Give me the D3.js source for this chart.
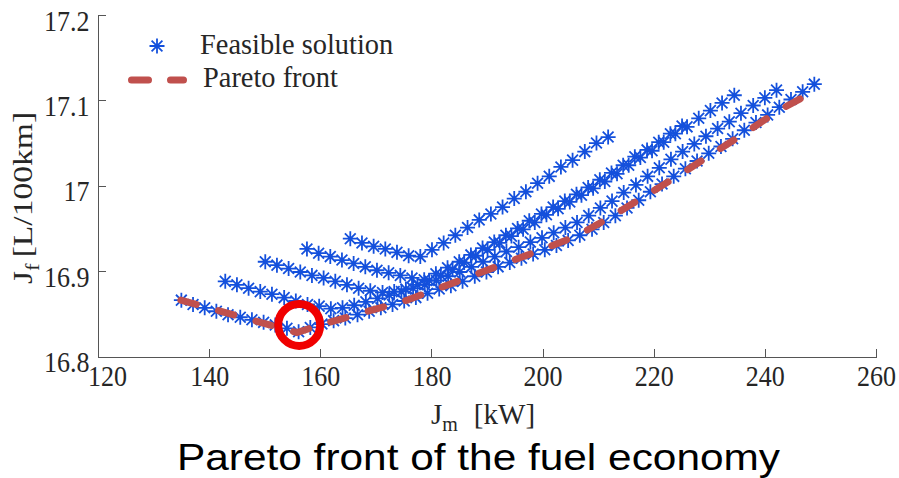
<!DOCTYPE html>
<html>
<head>
<meta charset="utf-8">
<script src="https://cdn.jsdelivr.net/npm/d3@7"></script>
<style>
  html, body { margin: 0; padding: 0; background: #fff; }
  svg { display: block; background: #fff; }
  .axis path, .axis line { stroke: #555; stroke-width: 1; shape-rendering: crispEdges; }
  .axis text { font-family: "Liberation Serif", "Times New Roman", serif; font-size: 26px; fill: #262626; }
  .lbl { font-family: "Liberation Serif", "Times New Roman", serif; fill: #262626; }
</style>
</head>
<body>
<svg width="899" height="478"></svg>
<script>
// --- Feasible solutions, one sweep per row (J_m in kW, J_f in L/100km) ---
const rowA_Jm = [135.0, 137.1, 139.2, 141.3, 143.4, 145.6, 147.7, 149.8, 151.9, 154.0, 156.1, 158.2, 160.3, 162.4, 164.5, 166.7, 168.8, 170.9, 173.0, 175.1, 177.2, 179.3, 181.4, 183.5, 185.6, 187.8, 189.9, 192.0, 194.1, 196.2, 198.3, 200.4, 202.5, 204.6, 206.7, 208.9, 211.0, 213.1, 215.2, 217.3, 219.4, 221.5, 223.6, 225.7, 227.8, 229.9, 232.1, 234.2, 236.3, 238.4, 240.5, 242.6, 244.7, 246.8, 248.9];
const rowA_Jf = [16.866, 16.861, 16.857, 16.853, 16.849, 16.846, 16.843, 16.840, 16.837, 16.833, 16.829, 16.834, 16.838, 16.842, 16.845, 16.849, 16.853, 16.857, 16.861, 16.865, 16.869, 16.874, 16.879, 16.883, 16.888, 16.894, 16.899, 16.905, 16.910, 16.915, 16.920, 16.925, 16.930, 16.936, 16.942, 16.949, 16.957, 16.965, 16.974, 16.983, 16.993, 17.002, 17.011, 17.020, 17.029, 17.038, 17.046, 17.055, 17.065, 17.074, 17.083, 17.092, 17.101, 17.110, 17.119];

const rowB_Jm = [142.9, 145.0, 147.1, 149.2, 151.3, 153.5, 155.6, 157.7, 159.8, 161.9, 164.0, 166.1, 168.2, 170.3, 172.4, 174.6, 176.7, 178.8, 180.9, 183.0, 185.1, 187.2, 189.3, 191.4, 193.5, 195.7, 197.8, 199.9, 202.0, 204.1, 206.2, 208.3, 210.4, 212.5, 214.6, 216.8, 218.9, 221.0, 223.1, 225.2, 227.3, 229.4, 231.5, 233.6, 235.7, 237.9, 240.0, 242.1];
const rowB_Jf = [16.888, 16.884, 16.880, 16.876, 16.873, 16.869, 16.865, 16.861, 16.859, 16.856, 16.857, 16.860, 16.864, 16.868, 16.872, 16.876, 16.880, 16.884, 16.889, 16.894, 16.899, 16.905, 16.911, 16.917, 16.923, 16.928, 16.934, 16.939, 16.945, 16.951, 16.957, 16.965, 16.974, 16.982, 16.992, 17.001, 17.011, 17.021, 17.031, 17.040, 17.049, 17.058, 17.067, 17.075, 17.085, 17.094, 17.103, 17.112];

const rowC_Jm = [150.1, 152.2, 154.3, 156.4, 158.5, 160.6, 162.7, 164.8, 166.9, 169.0, 171.2, 173.3, 175.4, 177.5, 179.6, 181.7, 183.8, 185.9, 188.0, 190.1, 192.3, 194.4, 196.5, 198.6, 200.7, 202.8, 204.9, 207.0, 209.1, 211.2, 213.4, 215.5, 217.6, 219.7, 221.8, 223.9, 226.0, 228.1, 230.2, 232.3, 234.5];
const rowC_Jf = [16.911, 16.907, 16.903, 16.899, 16.895, 16.892, 16.888, 16.884, 16.880, 16.877, 16.875, 16.876, 16.879, 16.884, 16.889, 16.895, 16.902, 16.910, 16.918, 16.925, 16.933, 16.941, 16.949, 16.957, 16.966, 16.973, 16.981, 16.989, 16.997, 17.005, 17.014, 17.024, 17.033, 17.041, 17.051, 17.061, 17.069, 17.079, 17.088, 17.097, 17.106];

const rowD_Jm = [157.6, 159.7, 161.8, 163.9, 166.0, 168.1, 170.2, 172.3, 174.4, 176.5, 178.7, 180.8, 182.9, 185.0, 187.1, 189.2, 191.3, 193.4, 195.5, 197.6, 199.8, 201.9, 204.0, 206.1, 208.2, 210.3, 212.4, 214.5, 216.6, 218.8, 220.9, 223.0, 225.1];
const rowD_Jf = [16.926, 16.921, 16.917, 16.913, 16.909, 16.905, 16.901, 16.898, 16.895, 16.892, 16.890, 16.897, 16.904, 16.911, 16.919, 16.927, 16.934, 16.942, 16.950, 16.959, 16.967, 16.975, 16.982, 16.990, 16.998, 17.007, 17.015, 17.024, 17.034, 17.042, 17.051, 17.061, 17.070];

const rowE_Jm = [165.4, 167.5, 169.6, 171.7, 173.8, 175.9, 178.0, 180.1, 182.2, 184.3, 186.5, 188.6, 190.7, 192.8, 194.9, 197.0, 199.1, 201.2, 203.3, 205.4, 207.6, 209.7, 211.8];
const rowE_Jf = [16.938, 16.933, 16.929, 16.926, 16.922, 16.918, 16.917, 16.925, 16.933, 16.942, 16.951, 16.960, 16.967, 16.975, 16.985, 16.993, 17.003, 17.011, 17.022, 17.030, 17.040, 17.050, 17.057];

// --- Pareto front (dashed) ---
const paretoJm = [134.9, 155.8, 160.0, 175.6, 179.7, 186.3, 193.2, 199.8, 206.1, 212.4, 218.7, 224.7, 230.7, 236.7, 242.7, 248.7];
const paretoJf = [16.866, 16.828, 16.837, 16.866, 16.876, 16.892, 16.909, 16.925, 16.941, 16.964, 16.989, 17.013, 17.038, 17.063, 17.089, 17.110];

// --- Highlighted optimum (red circle) ---
const optimumJm = 156.2;
const optimumJf = 16.837;

// --- Axes / labels ---
const xTicks = [120, 140, 160, 180, 200, 220, 240, 260];
const yTicks = [16.8, 16.9, 17, 17.1, 17.2];
const legendLabels = ["Feasible solution", "Pareto front"];
const titleText = "Pareto front of the fuel economy";

const starColor = "#1450dc";
const paretoColor = "#c0504d";

const svg = d3.select("svg");

const x = d3.scaleLinear().domain([120, 260]).range([98, 876]);
const y = d3.scaleLinear().domain([16.8, 17.2]).range([356.5, 15]);

// asterisk marker: + and x combined
function starPath(r) {
  const d = r * 0.72;
  return `M${-r},0H${r}M0,${-r}V${r}M${-d},${-d}L${d},${d}M${-d},${d}L${d},${-d}`;
}

// --- Axes (ticks pointing inward, no box) ---
const xAxis = svg.append("g")
  .attr("class", "axis")
  .attr("transform", `translate(0,${y(16.8)})`)
  .call(d3.axisBottom(x).tickValues(xTicks).tickFormat(d3.format("d")).tickSizeInner(-8).tickSizeOuter(0));
xAxis.selectAll("text")
  .attr("x", null).attr("y", null).attr("dy", null)
  .attr("transform", d => `translate(${d === 120 ? 9 : 0},29.5) scale(1,1.1)`);

const yAxis = svg.append("g")
  .attr("class", "axis")
  .attr("transform", `translate(${x(120)},0)`)
  .call(d3.axisLeft(y).tickValues(yTicks).tickFormat(d => d === 17 ? "17" : d3.format(".1f")(d)).tickSizeInner(-8).tickSizeOuter(0));
yAxis.selectAll("text")
  .attr("x", null).attr("y", null).attr("dy", null)
  .attr("transform", "translate(-8.5,15) scale(1,1.1)");

// --- Feasible points ---
const rows = [
  [rowA_Jm, rowA_Jf], [rowB_Jm, rowB_Jf], [rowC_Jm, rowC_Jf],
  [rowD_Jm, rowD_Jf], [rowE_Jm, rowE_Jf]
];
const points = rows.flatMap(([xs, ys]) => xs.map((v, i) => ({ jm: v, jf: ys[i] })));

svg.append("g").attr("class", "stars")
  .selectAll("path")
  .data(points)
  .join("path")
  .attr("transform", d => `translate(${x(d.jm)},${y(d.jf)})`)
  .attr("d", starPath(7.5))
  .attr("fill", "none")
  .attr("stroke", starColor)
  .attr("stroke-width", 1.8);

// --- Pareto front line ---
const line = d3.line().x(d => x(d[0])).y(d => y(d[1]));
svg.append("path")
  .datum(paretoJm.map((v, i) => [v, paretoJf[i]]))
  .attr("d", line)
  .attr("fill", "none")
  .attr("stroke", paretoColor)
  .attr("stroke-width", 7)
  .attr("stroke-linecap", "round")
  .attr("stroke-dasharray", "16 23");

// --- Circle round the chosen optimum ---
svg.append("circle")
  .attr("cx", x(optimumJm))
  .attr("cy", y(optimumJf))
  .attr("r", 21)
  .attr("fill", "none")
  .attr("stroke", "#f00000")
  .attr("stroke-width", 8);

// --- Legend ---
const legend = svg.append("g").attr("class", "legend");
legend.append("path")
  .attr("transform", "translate(157,46)")
  .attr("d", starPath(7.5))
  .attr("fill", "none")
  .attr("stroke", starColor)
  .attr("stroke-width", 1.8);
legend.append("line")
  .attr("x1", 131.5).attr("x2", 183.5).attr("y1", 80).attr("y2", 80)
  .attr("stroke", paretoColor)
  .attr("stroke-width", 7)
  .attr("stroke-linecap", "round")
  .attr("stroke-dasharray", "17 22");
legend.selectAll("text")
  .data(legendLabels)
  .join("text")
  .attr("class", "lbl")
  .attr("x", (d, i) => i === 0 ? 200 : 203)
  .attr("y", (d, i) => i === 0 ? 54 : 87)
  .style("font-size", "28.4px")
  .text(d => d);

// --- Axis labels ---
const xl = svg.append("text").attr("class", "lbl")
  .attr("x", 431).attr("y", 424)
  .style("font-size", "29px");
xl.append("tspan").text("J");
xl.append("tspan").attr("dy", 7).style("font-size", "20px").text("m");
xl.append("tspan").attr("dy", -7).attr("dx", 16).text("[kW]");

const yl = svg.append("text").attr("class", "lbl")
  .attr("transform", "translate(32,284) rotate(-90) scale(1.2,1)")
  .style("font-size", "28px");
yl.append("tspan").text("J");
yl.append("tspan").attr("dy", 7).style("font-size", "19px").text("f");
yl.append("tspan").attr("dy", -7).attr("dx", 5).text("[L/100km]");

// --- Title ---
svg.append("text")
  .attr("x", 177).attr("y", 470)
  .attr("textLength", 603)
  .attr("lengthAdjust", "spacingAndGlyphs")
  .style("font-family", "'Liberation Sans', Arial, sans-serif")
  .style("font-size", "37px")
  .style("fill", "#000")
  .text(titleText);
</script>
</body>
</html>
